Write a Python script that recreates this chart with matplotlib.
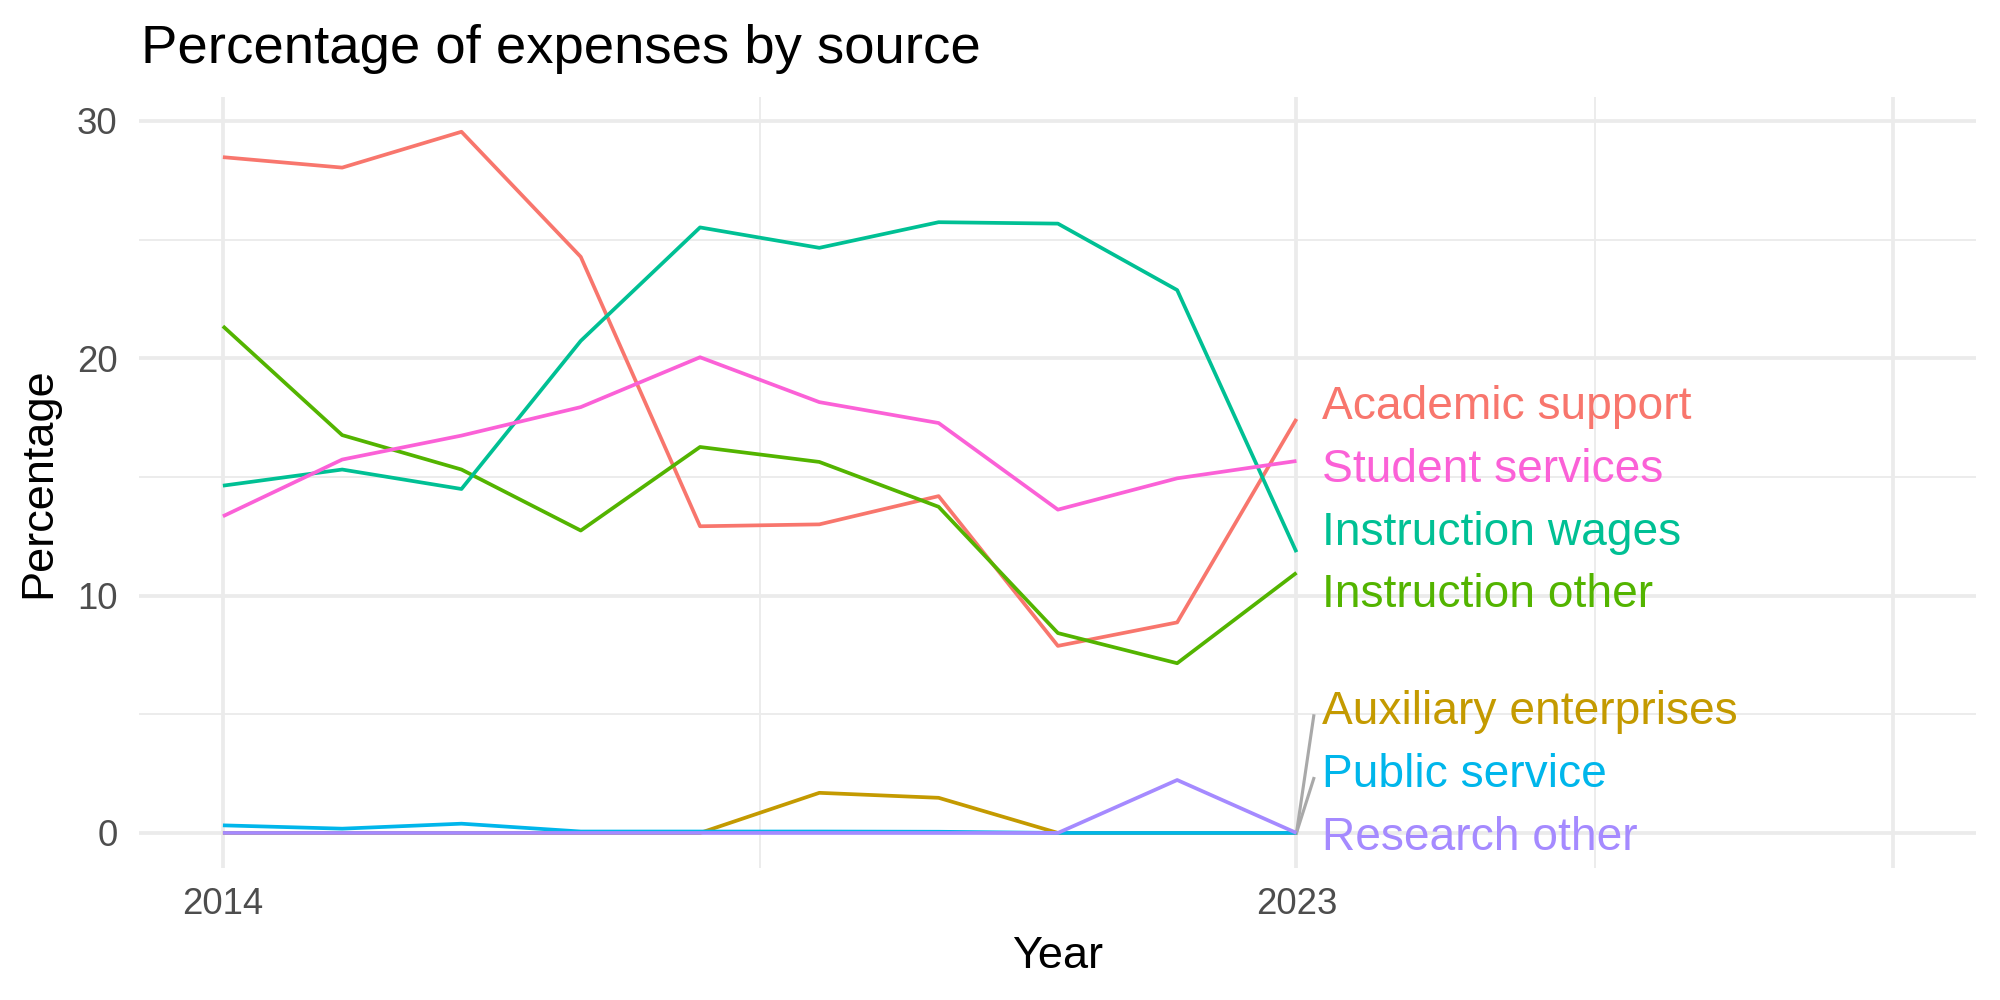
import matplotlib
matplotlib.use("Agg")
import matplotlib.pyplot as plt
import numpy as np

plt.rcParams['font.family'] = ['Liberation Sans', 'DejaVu Sans']

years = [2014, 2015, 2016, 2017, 2018, 2019, 2020, 2021, 2022, 2023]

academic_support = [28.47, 28.03, 29.54, 24.27, 12.92, 13.00, 14.19, 7.88, 8.87, 17.44]
auxiliary_enterprises = [0, 0, 0, 0, 0, 1.69, 1.48, 0, 0, 0]
instruction_other = [21.35, 16.76, 15.31, 12.74, 16.26, 15.63, 13.74, 8.42, 7.15, 10.96]
instruction_wages = [14.63, 15.31, 14.49, 20.73, 25.51, 24.65, 25.73, 25.67, 22.87, 11.83]
public_service = [0.32, 0.18, 0.39, 0.06, 0.06, 0.06, 0.05, 0, 0, 0]
research_other = [0, 0, 0, 0, 0, 0, 0, 0, 2.23, 0]
student_services = [13.34, 15.73, 16.74, 17.94, 20.04, 18.15, 17.27, 13.62, 14.94, 15.67]

series_names = ["Academic support", "Auxiliary enterprises", "Instruction other",
                "Instruction wages", "Public service", "Research other", "Student services"]
series_values = [academic_support, auxiliary_enterprises, instruction_other,
                 instruction_wages, public_service, research_other, student_services]
colors = ["#F8766D", "#C49A00", "#53B400", "#00C094", "#00B6EB", "#A58AFF", "#FB61D7"]

x_breaks = [2014, 2023, 2028]
x_labels = ["2014", "2023", ""]
y_breaks = [0, 10, 20, 30]

fig = plt.figure(figsize=(8, 4), dpi=250)
ax = fig.add_axes([0.0697, 0.132, 0.9185, 0.7713])

# limits with ggplot-like 5% expansion
xmin, xmax = 2014, 2028
xr = xmax - xmin
ax.set_xlim(xmin - 0.05 * xr, xmax + 0.05 * xr)
allv = np.concatenate([np.array(v, dtype=float) for v in series_values])
ymin, ymax = allv.min(), allv.max()
yr = ymax - ymin
ylo, yhi = ymin - 0.05 * yr, ymax + 0.05 * yr
ax.set_ylim(ylo, yhi)

# grid
for s in ax.spines.values():
    s.set_visible(False)
ax.set_xticks(x_breaks)
ax.set_xticklabels(x_labels)
ax.set_xticks([(x_breaks[i] + x_breaks[i + 1]) / 2 for i in range(len(x_breaks) - 1)], minor=True)
ax.set_yticks(y_breaks)
ax.set_yticks([(y_breaks[i] + y_breaks[i + 1]) / 2 for i in range(len(y_breaks) - 1)], minor=True)
ax.grid(True, which='major', color='#EBEBEB', linewidth=1.07)
ax.grid(True, which='minor', color='#EBEBEB', linewidth=0.53)
ax.set_axisbelow(True)
ax.tick_params(which='both', length=0)
ax.tick_params(axis='x', pad=5.5, labelsize=10.5, labelcolor='#4D4D4D')
ax.tick_params(axis='y', pad=6.3, labelsize=10.5, labelcolor='#4D4D4D')

for i, (vals, c) in enumerate(zip(series_values, colors)):
    ax.plot(years, vals, color=c, linewidth=1.07, zorder=2 + i, solid_capstyle='butt')

# simple 1D label repel
spacing = 2.64
half_h = 1.28
ends = [v[-1] for v in series_values]
order = sorted(range(len(series_names)), key=lambda k: (-ends[k], series_names[k]))
clusters = [[k] for k in order]
def place(cl):
    mean = np.mean([ends[k] for k in cl])
    n = len(cl)
    top = mean + spacing * (n - 1) / 2
    top = min(top, yhi - half_h)
    bottom = top - spacing * (n - 1)
    if bottom < ylo + half_h:
        bottom = ylo + half_h
        top = bottom + spacing * (n - 1)
    return top
changed = True
while changed:
    changed = False
    tops = [place(cl) for cl in clusters]
    for j in range(len(clusters) - 1):
        bottom_j = tops[j] - spacing * (len(clusters[j]) - 1)
        if bottom_j - tops[j + 1] < spacing - 1e-9:
            clusters[j] = clusters[j] + clusters[j + 1]
            del clusters[j + 1]
            changed = True
            break
label_y = {}
for cl in clusters:
    top = place(cl)
    for m, k in enumerate(cl):
        label_y[k] = top - spacing * m

label_x = years[-1] + 0.215
for k in range(len(series_names)):
    ly = label_y[k]
    if abs(ly - ends[k]) > 1.5:
        ax.plot([years[-1], label_x - 0.07], [ends[k], ly - 0.15], color='#A9A9A9',
                linewidth=0.9, zorder=1.5, clip_on=False)
    ax.text(label_x, ly, series_names[k], color=colors[k], fontsize=13.3,
            ha='left', va='center', zorder=20)

ax.set_xlabel("Year", fontsize=13, labelpad=4)
ax.set_ylabel("Percentage", fontsize=13, labelpad=5)
fig.text(0.0705, 0.9367, "Percentage of expenses by source", fontsize=15.7,
         ha='left', va='baseline')

fig.savefig("out.png", dpi=250)
